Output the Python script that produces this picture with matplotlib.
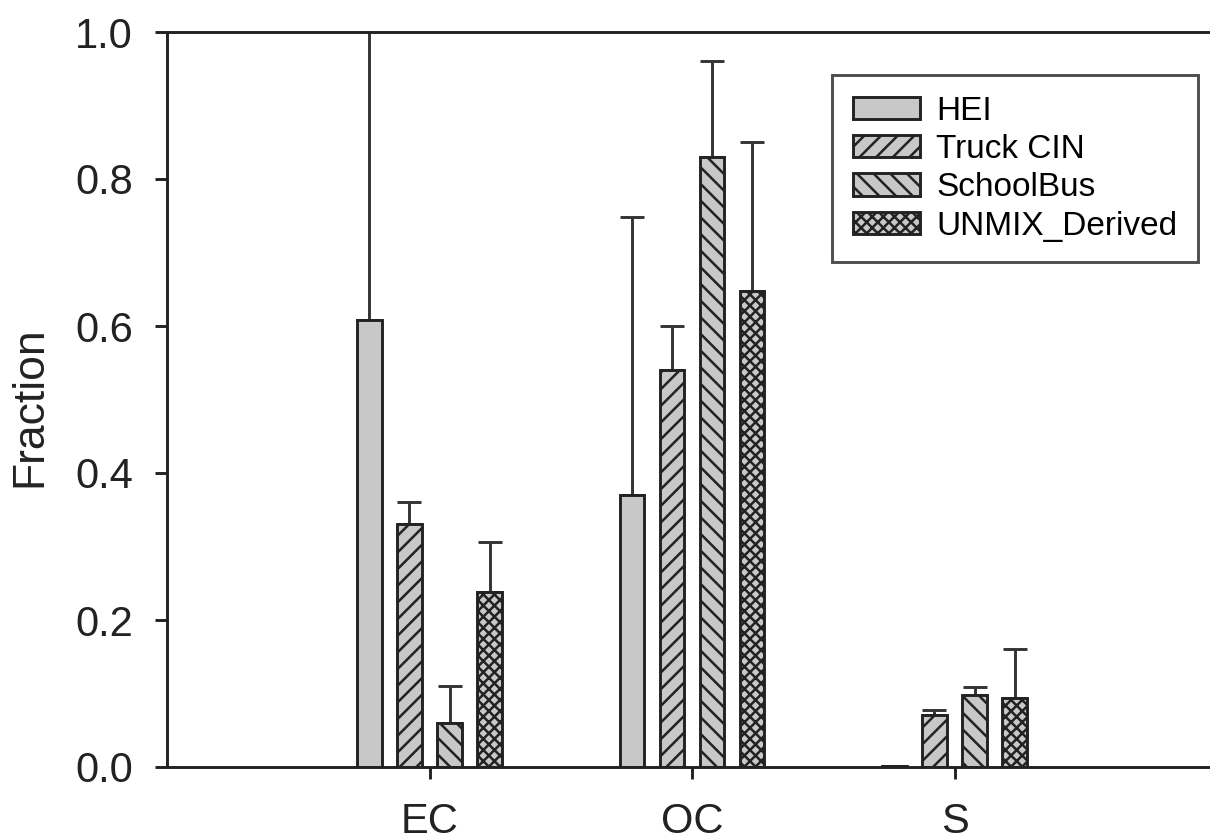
import numpy as np
import matplotlib
matplotlib.use('Agg')
import matplotlib.pyplot as plt

plt.rcParams['font.family'] = ['Liberation Sans', 'DejaVu Sans']
plt.rcParams['hatch.linewidth'] = 1.8
plt.rcParams['hatch.color'] = '#222222'

groups = ['EC', 'OC', 'S']
series = ['HEI', 'Truck CIN', 'SchoolBus', 'UNMIX_Derived']
hei = [0.608, 0.370, 0.002]
truck = [0.330, 0.540, 0.071]
bus = [0.060, 0.830, 0.098]
unmix = [0.238, 0.648, 0.094]
# upper error bar tops
hei_top = [1.06, 0.748, 0.002]
truck_top = [0.360, 0.600, 0.078]
bus_top = [0.110, 0.960, 0.109]
unmix_top = [0.306, 0.850, 0.160]

values = [hei, truck, bus, unmix]
tops = [hei_top, truck_top, bus_top, unmix_top]
hatches = ['', '//', '\\\\', 'xxx']

fig = plt.figure(figsize=(12.1, 8.4), dpi=100)
ax = fig.add_axes([167 / 1210, 73 / 840, 1050 / 1210, 735 / 840])

x = np.arange(len(groups))
width = 0.095
offsets = [-0.2286, -0.0762, 0.0762, 0.2286]
lw = 2.1

for vals, top, h, name, off in zip(values, tops, hatches, series, offsets):
    vals = np.array(vals)
    err = np.array(top) - vals
    ax.bar(x + off, vals, width, color='#c8c8c8', edgecolor='#222222',
           linewidth=lw, hatch=h, label=name, zorder=2)
    ax.errorbar(x + off, vals, yerr=[np.zeros_like(err), err], fmt='none',
                ecolor='#333333', elinewidth=lw, capsize=8.5, capthick=lw, zorder=1)

ax.set_xlim(-1, 3)
ax.set_ylim(0, 1.0)
ax.set_xticks(x)
ax.set_xticklabels(groups)
ax.set_yticks([0, 0.2, 0.4, 0.6, 0.8, 1.0])
ax.set_yticklabels(['0.0', '0.2', '0.4', '0.6', '0.8', '1.0'])
ax.tick_params(axis='both', direction='out', length=8.5, width=lw,
               labelsize=30, colors='#222222')
ax.tick_params(axis='y', pad=16)
ax.tick_params(axis='x', pad=17)
ax.set_ylabel('Fraction', fontsize=32, color='#222222')
ax.yaxis.set_label_coords(-0.111, 0.49)
for s in ['left', 'bottom', 'top']:
    ax.spines[s].set_linewidth(lw)
    ax.spines[s].set_color('#222222')
ax.spines['right'].set_visible(False)

leg = ax.legend(loc='upper right', bbox_to_anchor=(1198 / 1210, 1 - 75 / 840),
                bbox_transform=fig.transFigure, borderaxespad=0, fancybox=False,
                fontsize=24, handlelength=2.0, handleheight=0.65,
                labelspacing=0.22, handletextpad=0.5, borderpad=0.62)
leg.get_frame().set_edgecolor('#222222')
leg.get_frame().set_linewidth(lw)

fig.savefig('out.png', dpi=100)
